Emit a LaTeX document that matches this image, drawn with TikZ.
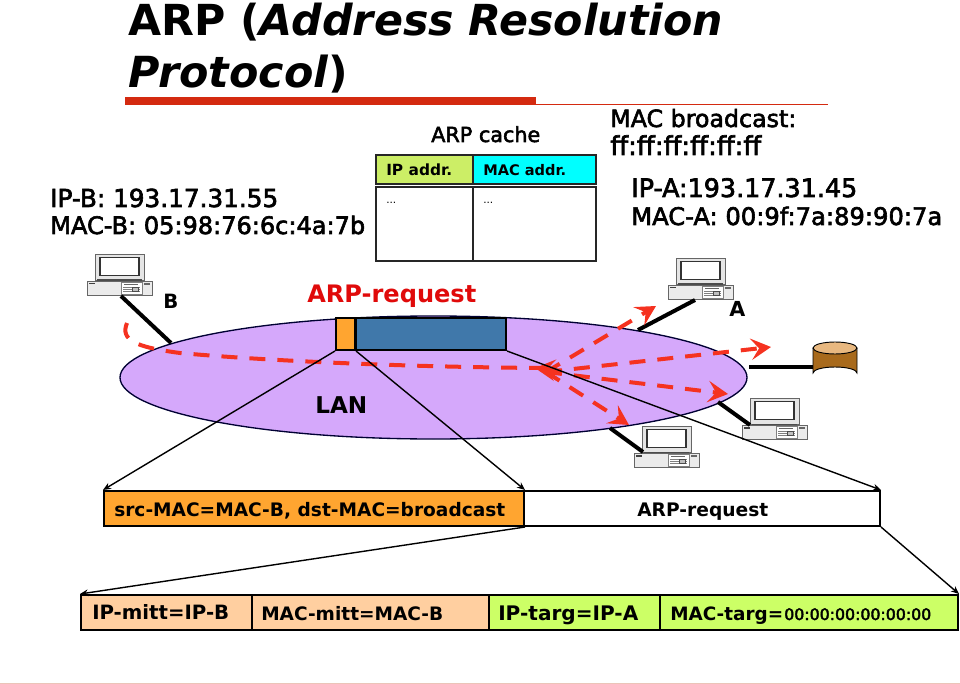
\documentclass[tikz,border=0pt]{standalone}
\usepackage{fontspec}
\usepackage{graphicx}
\setmainfont{DejaVu Sans}
\newfontfamily\medf[FakeBold=2.5]{DejaVu Sans}
\usetikzlibrary{arrows.meta,shapes.geometric,fit}
\newcommand\tw[2]{\resizebox{\dimexpr#1pt*3/4\relax}{!}{#2}}
\definecolor{ruler}{HTML}{D42A10}
\definecolor{lanfill}{HTML}{D5A8FB}
\definecolor{redarrow}{HTML}{F53220}
\definecolor{txtred}{HTML}{E00A0A}
\definecolor{framefill}{HTML}{FFA530}
\definecolor{blueframe}{HTML}{4078AA}
\definecolor{peach}{HTML}{FFCFA0}
\definecolor{limefill}{HTML}{CCFF66}
\definecolor{headlime}{HTML}{CCEE66}
\definecolor{headcyan}{HTML}{00FFFF}
\definecolor{footline}{HTML}{EBC4B8}
\definecolor{dbdark}{HTML}{A86A1C}
\definecolor{dbmid}{HTML}{F0A030}
\definecolor{dbtop}{HTML}{E8B880}
\tikzset{
 lbl/.style={inner sep=0pt,anchor=base west,font=\medf},
 boldlbl/.style={inner sep=0pt,anchor=base west,font=\bfseries},
 fbox/.style={draw=black,line width=1.5pt,inner sep=0pt,rectangle},
 cell/.style={draw=black!85,line width=1.1pt,inner sep=0pt,rectangle},
 tiplink/.style={draw=black,line width=1.05pt,-{Stealth[length=6pt,width=5pt]}},
 wire/.style={draw=black,line width=3pt},
 redtip/.style={-{Stealth[length=15pt,width=16pt,inset=6pt]}},
 redflow/.style={draw=redarrow,line width=3pt,dash pattern=on 12pt off 9pt},
 pc/.pic={
  \draw[black!60,line width=.7pt,fill=black!10] (8,-27) rectangle (57,-1);
  \draw[black!80,line width=1pt,fill=white] (13,-23.5) rectangle (52,-5.5);
  \draw[black!60,line width=.6pt,fill=black!8] (0,0) rectangle (65,14);
  \fill[black!70] (10,-1.5) rectangle (55,0);
  \draw[black!50,line width=.4pt,fill=white] (34,1) rectangle (55,13);
  \foreach \yy in {6,8,10} \draw[black!50,line width=.4pt] (36,\yy) -- (53,\yy);
  \fill[black!60] (37,3) rectangle (51,4);
  \draw[black!70,line width=.4pt,fill=black!25] (45,6) rectangle (51,10);
  \fill[black!75] (2,2) rectangle (8,3.5);
  \fill[black!60] (57,2) rectangle (63,4);
 }
}
\begin{document}
\begin{tikzpicture}[x=0.75pt,y=-0.75pt]
\useasboundingbox (0,0) rectangle (960,684);
% title
\node[boldlbl] (title1) at (128,36) {\tw{595}{ARP (\textit{Address Resolution}}};
\node[boldlbl] (title2) at (128,88) {\tw{220}{\textit{Protocol})}};
\fill[ruler] (125,97) rectangle (536,105);
\fill[ruler] (536,104) rectangle (828,105.5);
\fill[footline] (0,682.5) rectangle (960,684);
% texts upper
\node[lbl] (ipb) at (50,207) {\tw{228}{IP-B: 193.17.31.55}};
\node[lbl] (macb) at (50,234) {\tw{315}{MAC-B: 05:98:76:6c:4a:7b}};
\node[lbl] (cachet) at (431,142) {\tw{109}{ARP cache}};
\node[lbl] (brd1) at (610,127) {\tw{186}{MAC broadcast:}};
\node[lbl] (brd2) at (610,155) {\tw{151}{ff:ff:ff:ff:ff:ff}};
\node[lbl] (ipa) at (631,197) {\tw{226}{IP-A:193.17.31.45}};
\node[lbl] (maca) at (631,225) {\tw{311}{MAC-A: 00:9f:7a:89:90:7a}};
% cache table
\node[cell,fill=headlime,fit={(376,155)(473,184)}] (hip) {};
\node[cell,fill=headcyan,fit={(473,155)(596,184)}] (hmac) {};
\node[cell,fit={(376,187)(473,261)}] (bip) {};
\node[cell,fit={(473,187)(596,261)}] (bmac) {};
\node[boldlbl] (hipt) at (386,176) {\tw{66}{IP addr.}};
\node[boldlbl] (hmact) at (483,176) {\tw{83}{MAC addr.}};
\node[lbl,font=\normalfont] (dots1) at (386,204) {\tw{10}{...}};
\node[lbl,font=\normalfont] (dots2) at (483,204) {\tw{10}{...}};
% LAN
\node[ellipse,draw=black!80!blue,line width=1pt,fill=lanfill,inner sep=0pt,minimum width=470.25pt,minimum height=92.25pt] (lan) at (433.5,377.5) {};
\node[boldlbl] (lant) at (315,413) {\tw{52}{LAN}};
% computers
\pic (pcB) at (87,281) {pc};
\pic (pcA) at (668,285) {pc};
\pic (pcC) at (742,425) {pc};
\pic (pcD) at (634,453) {pc};
\coordinate (portB) at (121,296);
\coordinate (lanB) at (171,343);
\coordinate (portA) at (695,300);
\coordinate (lanA) at (638,330);
\coordinate (portC) at (750,425);
\coordinate (lanC) at (718,402);
\coordinate (portD) at (643,452);
\coordinate (lanD) at (610,428);
\coordinate (lanE) at (749,366.5);
\coordinate (dbL) at (813,366.5);
\draw[wire] (portB) -- (lanB);
\draw[wire] (portA) -- (lanA);
\draw[wire] (portC) -- (lanC);
\draw[wire] (portD) -- (lanD);
\draw[wire] (lanE) -- (dbL);
% database
\shade[left color=dbdark,middle color=dbmid,right color=dbdark]
 (813,348) -- (813,373) arc[start angle=180,end angle=360,x radius=22,y radius=6] -- (857,348) arc[start angle=0,end angle=180,x radius=22,y radius=6];
\draw[black,line width=.7pt]
 (813,348) -- (813,373) arc[start angle=180,end angle=360,x radius=22,y radius=6] -- (857,348);
\draw[black,line width=.7pt,fill=dbtop] (835,348) ellipse[x radius=22,y radius=6];
\node[boldlbl] (bt) at (163,308) {\tw{15}{B}};
\node[boldlbl] (at) at (729,317) {\tw{16}{A}};
% flows
\coordinate (startB) at (127,323);
\coordinate (hub) at (546,372);
\coordinate (tipL) at (535,368);
\coordinate (tipLback) at (562,371);
\coordinate (toA) at (656,306);
\coordinate (toDb) at (771,347);
\coordinate (toC) at (728,394);
\coordinate (toD) at (629,425);
\coordinate (endB) at (540,368);
\draw[redflow] (startB) .. controls (120,340) and (135,347) .. (180,353) .. controls (280,362) and (420,367) .. (endB);
\draw[redflow,redtip] (hub) -- (toA);
\draw[redflow,redtip] (hub) -- (toDb);
\draw[redflow,redtip] (hub) -- (toC);
\draw[redflow,redtip] (hub) -- (toD);
\draw[draw=redarrow,line width=3pt,redtip] (tipLback) -- (tipL);
% frame on LAN
\node[fbox,fill=framefill,fit={(336,318)(355,350)}] (hdr) {};
\node[fbox,fill=blueframe,fit={(356,318)(506,350)}] (pay) {};
\node[boldlbl,text=txtred] (req) at (307,303) {\tw{169}{ARP-request}};
% frame 1
\node[fbox,fill=framefill,fit={(104,491)(524,526)}] (src) {};
\node[fbox,fill=white,fit={(524,491)(880,526)}] (arp) {};
\node[boldlbl] (srct) at (114,516) {\tw{391}{src-MAC=MAC-B, dst-MAC=broadcast}};
\node[boldlbl] (arpt) at (637,516) {\tw{131}{ARP-request}};
% frame 2
\node[fbox,fill=peach,fit={(81,595)(252,630)}] (f1) {};
\node[fbox,fill=peach,fit={(252,595)(489,630)}] (f2) {};
\node[fbox,fill=limefill,fit={(489,595)(660,630)}] (f3) {};
\node[fbox,fill=limefill,fit={(660,595)(958,630)}] (f4) {};
\node[boldlbl] (f1t) at (92,619) {\tw{137}{IP-mitt=IP-B}};
\node[boldlbl] (f2t) at (261,620) {\tw{182}{MAC-mitt=MAC-B}};
\node[boldlbl] (f3t) at (498,620) {\tw{140}{IP-targ=IP-A}};
\node[boldlbl] (f4t) at (670,620) {\tw{113}{MAC-targ=}};
\node[lbl] (f4z) at (784,620) {\tw{147}{00:00:00:00:00:00}};
% links
\draw[tiplink] (hdr.south west) -- (src.north west);
\draw[tiplink] (hdr.south east) -- (src.north east);
\draw[tiplink] (pay.south east) -- (arp.north east);
\draw[tiplink] (src.south east) -- (f1.north west);
\draw[tiplink] (arp.south east) -- (f4.north east);
\end{tikzpicture}
\end{document}
